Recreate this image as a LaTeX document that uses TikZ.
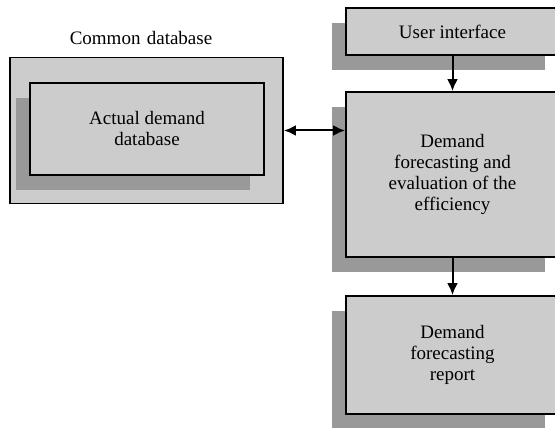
\documentclass[tikz,border=0pt]{standalone}
\usepackage{fontspec}
\setmainfont{Liberation Serif}
\usepackage{tikz}
\usetikzlibrary{arrows.meta,shadows}

\begin{document}
\begin{tikzpicture}[x=1pt, y=-1pt, >={Latex[length=12pt,width=11pt]},
        box/.style={draw, line width=1.9pt, fill=black!20, align=center,
            font=\fontsize{19}{21}\selectfont},
        shade/.style={drop shadow={shadow xshift=-14pt, shadow yshift=-15pt,
            fill=black!40, opacity=1}},
        flowline/.style={draw, line width=2pt}]
            \useasboundingbox (0,0) rectangle (555,428);

            % Common database with the actual demand database inside
            \node[text width=200pt, align=center, font=\fontsize{19}{21}\selectfont] (title) at (141,38) {Common database};
            \node[box, minimum width=273pt, minimum height=146pt] (common) at (146.5,130.5) {};
            \node[box, shade, minimum width=234pt, minimum height=92pt] (actual) at (147,129) {Actual demand\\database};

            % Right column
            \node[box, shade, minimum width=213pt, minimum height=47pt] (ui) at (452.5,31.5) {User interface};
            \node[box, shade, minimum width=213pt, minimum height=165pt] (forecast) at (452.5,174.5) {Demand\\forecasting and\\evaluation of the\\efficiency};
            \node[box, shade, minimum width=213pt, minimum height=118pt] (report) at (452.5,355) {Demand\\forecasting\\report};

            % Connections
            \draw[flowline, <->] (common.east) -- (common.east -| forecast.west);
            \draw[flowline, ->] (ui) -- (forecast);
            \draw[flowline, ->] (forecast) -- (report);

\end{tikzpicture}
\end{document}
